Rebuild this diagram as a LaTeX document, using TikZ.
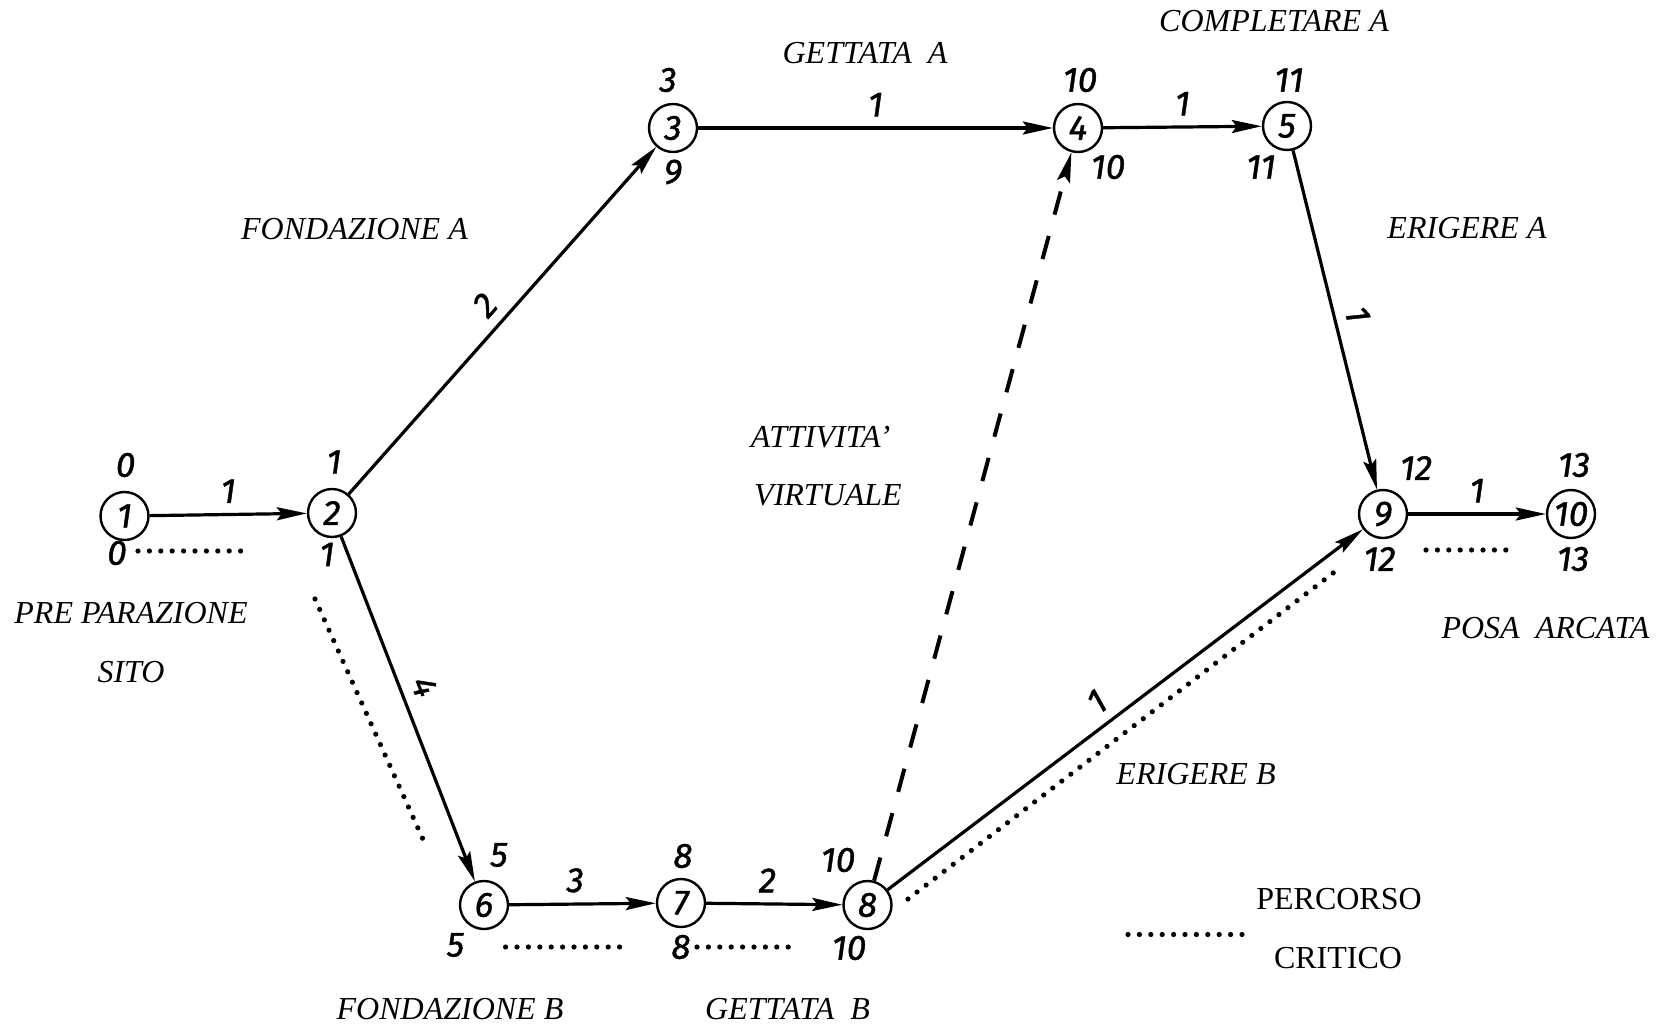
\documentclass[tikz,border=0pt]{standalone}
\usepackage{fontspec}
\setmainfont{Liberation Serif}
\newfontfamily\numfont{Fira Sans}[FakeBold=1.2]
\usetikzlibrary{arrows.meta}

\tikzset{
  event/.style={circle,draw,line width=1.2pt,minimum size=24pt,inner sep=0pt,
    font=\numfont\itshape\fontsize{17.5}{17}\selectfont},
  num/.style={inner sep=0pt,font=\numfont\itshape\fontsize{17.5}{17}\selectfont},
  lbl/.style={inner sep=0pt,font=\itshape\fontsize{16}{18}\selectfont},
  act/.style={line width=1.6pt,-{Stealth[length=15pt,width=6.5pt,inset=2.5pt]}},
  crit/.style={line width=2.6pt,line cap=round,dash pattern=on 0pt off 5.7pt},
}

\begin{document}
\begin{tikzpicture}[x=0.5pt,y=-0.5pt]
		\useasboundingbox (0,0) rectangle (1669,1027);
		% events
		\node[event] (ev1) at (124.5,516) {1};
		\node[event] (ev2) at (332,513) {2};
		\node[event] (ev3) at (673,128) {3};
		\node[event] (ev4) at (1078,128) {4};
		\node[event] (ev5) at (1287,126) {5};
		\node[event] (ev6) at (484,905) {6};
		\node[event] (ev7) at (681,903) {7};
		\node[event] (ev8) at (867.5,905) {8};
		\node[event] (ev9) at (1383,514) {9};
		\node[event] (ev10) at (1571,514) {10};
		% activities
		\draw[act] (ev1) -- node[num,above=5pt] (d12) {1} (ev2);
		\draw[act] (ev2) -- node[num,above=5pt,sloped] (d23) {2} (ev3);
		\draw[act] (ev3) -- node[num,above=5pt] (d34) {1} (ev4);
		\draw[act] (ev4) -- node[num,above=5pt] (d45) {1} (ev5);
		\draw[act] (ev5) -- node[num,above=5pt,sloped] (d59) {1} (ev9);
		\draw[act] (ev9) -- node[num,above=5pt] (d910) {1} (ev10);
		\draw[act] (ev2) -- node[num,above=5pt,sloped,pos=0.46] (d26) {4} (ev6);
		\draw[act] (ev6) -- node[num,above=5pt,pos=0.45] (d67) {3} (ev7);
		\draw[act] (ev7) -- node[num,above=5pt,pos=0.45] (d78) {2} (ev8);
		\draw[act] (ev8) -- node[num,above=5pt,sloped,pos=0.47] (d89) {1} (ev9);
		\draw[act,line width=2pt,dash pattern=on 12pt off 11pt] (ev8) -- (ev4);
		% early / late times
		\node[num] (t1a) at (125.6,465) {0};
		\node[num] (t1b) at (117,553) {0};
		\node[num] (t2a) at (334,462) {1};
		\node[num] (t2b) at (327,554.5) {1};
		\node[num] (t3a) at (668,80) {3};
		\node[num] (t3b) at (673,172) {9};
		\node[num] (t4a) at (1080,80) {10};
		\node[num] (t4b) at (1108,167) {10};
		\node[num] (t5a) at (1289,80) {11};
		\node[num] (t5b) at (1261,167) {11};
		\node[num] (t6a) at (499,855) {5};
		\node[num] (t6b) at (455.5,945) {5};
		\node[num] (t7a) at (683,856) {8};
		\node[num] (t7b) at (681,947) {8};
		\node[num] (t8a) at (838,860) {10};
		\node[num] (t8b) at (849,948) {10};
		\node[num] (t9a) at (1416,468) {12};
		\node[num] (t9b) at (1379.5,559) {12};
		\node[num] (t10a) at (1574,465) {13};
		\node[num] (t10b) at (1573,559) {13};
		% critical path
		\draw[crit] (138,551) -- (250,551);
		\draw[crit] (315,599) -- (426,846);
		\draw[crit] (505.6,947) -- (620.5,947);
		\draw[crit] (697,947) -- (796,947);
		\draw[crit] (908,899) -- (1341,567);
		\draw[crit] (1426,550) -- (1517,550);
		% activity names
		\node[lbl] (pre) at (131,613) {PRE PARAZIONE};
		\node[lbl] (sito) at (131,672) {SITO};
		\node[lbl] (fonA) at (354.5,229) {FONDAZIONE A};
		\node[lbl] (getA) at (865,53) {GETTATA\ \ A};
		\node[lbl] (comA) at (1274,21) {COMPLETARE A};
		\node[lbl] (eriA) at (1467,228) {ERIGERE A};
		\node[lbl] (posa) at (1545.5,628) {POSA\ \ ARCATA};
		\node[lbl] (att) at (820.6,437.5) {ATTIVITA'};
		\node[lbl] (vir) at (828,495) {VIRTUALE};
		\node[lbl] (eriB) at (1196,774) {ERIGERE B};
		\node[lbl] (fonB) at (450,1009) {FONDAZIONE B};
		\node[lbl] (getB) at (787.6,1009) {GETTATA\ \ B};
		% legend
		\draw[crit] (1128,934.5) -- (1242,934.5);
		\node[lbl,font=\fontsize{16}{18}\selectfont] (perc) at (1339,899) {PERCORSO};
		\node[lbl,font=\fontsize{16}{18}\selectfont] (crit) at (1338,958) {CRITICO};
\end{tikzpicture}
\end{document}
